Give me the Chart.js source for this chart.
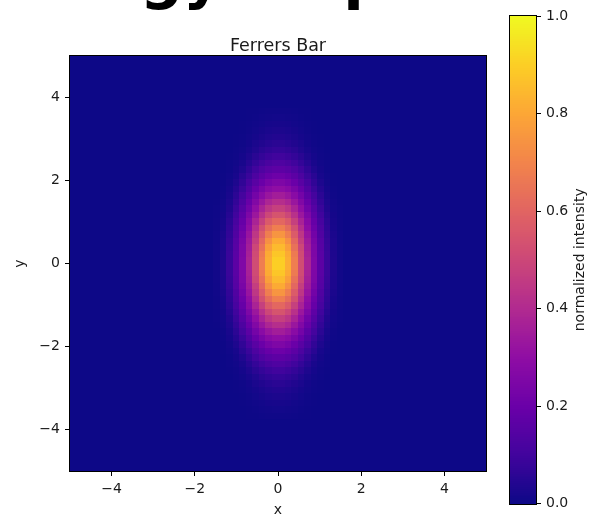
<!DOCTYPE html>
<html>
<head>
<meta charset="utf-8">
<script src="https://cdn.jsdelivr.net/npm/chart.js@4.4.0/dist/chart.umd.min.js"></script>
<style>
  html, body { margin: 0; padding: 0; background: #fff; }
  #wrap { position: relative; width: 594px; height: 517px; overflow: hidden; }
  #heat { position: absolute; left: 0; top: 0; }
  #cbar { position: absolute; left: 490px; top: 0; }
</style>
</head>
<body>
<div id="wrap">
  <canvas id="heat" width="594" height="517"></canvas>
  <canvas id="cbar" width="104" height="517"></canvas>
</div>
<script>
const figTitle = 'Energy Map';
const plotTitle = 'Ferrers Bar';
const xLabel = 'x';
const yLabel = 'y';
const cbarLabel = 'normalized intensity';

const xRange = [-5, 5];
const yRange = [-5, 5];
const nCells = 64; // cells per side

const xTicks = [-4, -2, 0, 2, 4];
const yTicks = [-4, -2, 0, 2, 4];
const cbarTicks = [0, 0.2, 0.4, 0.6, 0.8, 1.0];

// upper-right quarter of the map, centre outwards:
// row 0 is just above y=0, column 0 just right of x=0. The map is symmetric.
const quarter = [
  [0.90, 0.82, 0.68, 0.52, 0.38, 0.26, 0.165, 0.087, 0.034, 0.01],
  [0.88, 0.81, 0.67, 0.515, 0.37, 0.255, 0.16, 0.086, 0.033, 0.01],
  [0.85, 0.78, 0.64, 0.50, 0.36, 0.25, 0.156, 0.083, 0.03, 0.009],
  [0.81, 0.735, 0.61, 0.47, 0.345, 0.24, 0.15, 0.078, 0.03, 0.008],
  [0.75, 0.68, 0.57, 0.445, 0.325, 0.225, 0.14, 0.072, 0.026, 0.007],
  [0.68, 0.625, 0.53, 0.41, 0.30, 0.205, 0.13, 0.066, 0.022, 0.006],
  [0.61, 0.565, 0.475, 0.375, 0.28, 0.19, 0.118, 0.058, 0.019, 0.005],
  [0.545, 0.50, 0.425, 0.335, 0.25, 0.17, 0.10, 0.048, 0.015, 0.004],
  [0.475, 0.44, 0.375, 0.30, 0.22, 0.15, 0.086, 0.038, 0.012, 0.003],
  [0.415, 0.385, 0.33, 0.263, 0.195, 0.13, 0.073, 0.03, 0.009, 0.002],
  [0.355, 0.33, 0.285, 0.228, 0.167, 0.11, 0.06, 0.023, 0.006, 0],
  [0.30, 0.28, 0.24, 0.193, 0.14, 0.087, 0.046, 0.017, 0.004, 0],
  [0.253, 0.234, 0.20, 0.159, 0.115, 0.07, 0.032, 0.011, 0.002, 0],
  [0.208, 0.193, 0.166, 0.13, 0.087, 0.054, 0.022, 0.008, 0.001, 0],
  [0.168, 0.155, 0.133, 0.10, 0.068, 0.035, 0.015, 0.004, 0, 0],
  [0.133, 0.122, 0.10, 0.075, 0.048, 0.024, 0.009, 0.003, 0, 0],
  [0.10, 0.09, 0.075, 0.056, 0.032, 0.016, 0.006, 0.001, 0, 0],
  [0.075, 0.068, 0.055, 0.037, 0.022, 0.01, 0.004, 0, 0, 0],
  [0.055, 0.049, 0.038, 0.026, 0.014, 0.006, 0.002, 0, 0, 0],
  [0.04, 0.035, 0.027, 0.018, 0.009, 0.004, 0.001, 0, 0, 0],
  [0.028, 0.025, 0.019, 0.012, 0.006, 0.002, 0, 0, 0, 0],
  [0.019, 0.017, 0.012, 0.008, 0.004, 0.001, 0, 0, 0, 0],
  [0.012, 0.01, 0.007, 0.004, 0.002, 0, 0, 0, 0, 0],
  [0.006, 0.005, 0.004, 0.002, 0.001, 0, 0, 0, 0, 0]
];

const FONT = '"DejaVu Sans", sans-serif';
const INK = '#1a1a1a';
Chart.defaults.font.family = FONT;
Chart.defaults.color = INK;

// plasma colormap
const plasmaStops = ['#0d0887', '#41049d', '#6a00a8', '#8f0da4', '#b12a90', '#cc4778',
                     '#e16462', '#f2844b', '#fca636', '#fcce25', '#f0f921'];
const plasmaRgb = plasmaStops.map(h => [1, 3, 5].map(k => parseInt(h.substr(k, 2), 16)));
function plasma(t) {
  t = Math.min(1, Math.max(0, t));
  const f = t * (plasmaRgb.length - 1);
  const i = Math.min(plasmaRgb.length - 2, Math.floor(f));
  const u = f - i;
  const a = plasmaRgb[i], b = plasmaRgb[i + 1];
  return 'rgb(' + a.map((c, k) => Math.round(c + (b[k] - c) * u)).join(',') + ')';
}

// full grid of cells, mirrored out of the quarter
const cellSize = (xRange[1] - xRange[0]) / nCells;
const half = nCells / 2;
const cells = [];
for (let j = 0; j < nCells; j++) {
  const r = j >= half ? j - half : half - 1 - j;
  for (let i = 0; i < nCells; i++) {
    const c = i >= half ? i - half : half - 1 - i;
    const row = quarter[r];
    const v = row && c < row.length ? row[c] : 0;
    cells.push({ x: xRange[0] + (i + 0.5) * cellSize, y: yRange[0] + (j + 0.5) * cellSize, v: v });
  }
}

function tickText(v) {
  return v < 0 ? '\u2212' + Math.abs(v) : String(v);
}

const heatLayer = {
  id: 'heatLayer',
  beforeDatasetsDraw(chart) {
    const { ctx, scales: { x, y } } = chart;
    const hw = cellSize / 2;
    ctx.save();
    chart.data.datasets[0].data.forEach(p => {
      const l = Math.round(x.getPixelForValue(p.x - hw));
      const r = Math.round(x.getPixelForValue(p.x + hw));
      const t = Math.round(y.getPixelForValue(p.y + hw));
      const b = Math.round(y.getPixelForValue(p.y - hw));
      ctx.fillStyle = plasma(p.v);
      ctx.fillRect(l, t, r - l, b - t);
    });
    ctx.restore();
  },
  afterDraw(chart) {
    const { ctx, chartArea: a } = chart;
    ctx.save();
    ctx.strokeStyle = '#000';
    ctx.lineWidth = 1;
    ctx.strokeRect(Math.round(a.left) - 0.5, Math.round(a.top) - 0.5,
                   Math.round(a.right - a.left) + 1, Math.round(a.bottom - a.top) + 1);
    ctx.fillStyle = INK;
    ctx.textAlign = 'center';
    ctx.textBaseline = 'alphabetic';
    ctx.font = '17.5px ' + FONT;
    ctx.fillText(plotTitle, (a.left + a.right) / 2, 51);
    // figure title, mostly above the top edge
    ctx.fillStyle = '#000';
    ctx.textAlign = 'left';
    ctx.font = 'bold 60px ' + FONT;
    ctx.fillText(figTitle, -14, -3);
    ctx.restore();
  }
};

function axisOpts(ticks, title, fixSize) {
  return {
    type: 'linear',
    afterBuildTicks: s => { s.ticks = ticks.map(v => ({ value: v })); },
    afterFit: fixSize,
    ticks: { callback: tickText, font: { size: 14 }, color: INK, maxRotation: 0 },
    grid: { display: true, drawOnChartArea: false, drawTicks: true, tickLength: 5, color: '#000', lineWidth: 1 },
    border: { display: false },
    title: { display: true, text: title, font: { size: 14 }, color: INK }
  };
}

const xAxis = axisOpts(xTicks, xLabel, s => { s.height = 46; });
xAxis.min = xRange[0]; xAxis.max = xRange[1];
xAxis.ticks.padding = 4.5;
xAxis.title.padding = { top: 0, bottom: -2 };

const yAxis = axisOpts(yTicks, yLabel, s => { s.width = 70; });
yAxis.min = yRange[0]; yAxis.max = yRange[1];
yAxis.ticks.padding = 5;
yAxis.title.padding = { top: 12, bottom: 0 };

new Chart(document.getElementById('heat'), {
  type: 'scatter',
  data: { datasets: [{ data: cells, pointRadius: 0, pointHoverRadius: 0 }] },
  options: {
    responsive: false,
    animation: false,
    events: [],
    devicePixelRatio: 1,
    layout: { padding: { top: 56, right: 108, left: 0, bottom: 0 } },
    plugins: { legend: { display: false }, tooltip: { enabled: false } },
    scales: { x: xAxis, y: yAxis }
  },
  plugins: [heatLayer]
});

// colour bar
const cbarLayer = {
  id: 'cbarLayer',
  beforeDatasetsDraw(chart) {
    const { ctx, chartArea: a, scales: { y } } = chart;
    const levels = 256;
    ctx.save();
    for (let k = 0; k < levels; k++) {
      const t = Math.floor(y.getPixelForValue((k + 1) / levels));
      const b = Math.ceil(y.getPixelForValue(k / levels));
      ctx.fillStyle = plasma((k + 0.5) / levels);
      ctx.fillRect(a.left, t, a.right - a.left, b - t);
    }
    ctx.restore();
  },
  afterDraw(chart) {
    const { ctx, chartArea: a } = chart;
    ctx.save();
    ctx.strokeStyle = '#000';
    ctx.lineWidth = 1;
    ctx.strokeRect(Math.round(a.left) - 0.5, Math.round(a.top) - 0.5,
                   Math.round(a.right - a.left) + 1, Math.round(a.bottom - a.top) + 1);
    ctx.translate(90.5, (a.top + a.bottom) / 2);
    ctx.rotate(-Math.PI / 2);
    ctx.fillStyle = INK;
    ctx.font = '14px ' + FONT;
    ctx.textAlign = 'center';
    ctx.textBaseline = 'middle';
    ctx.fillText(cbarLabel, 0, 0);
    ctx.restore();
  }
};

new Chart(document.getElementById('cbar'), {
  type: 'scatter',
  data: { datasets: [] },
  options: {
    responsive: false,
    animation: false,
    events: [],
    devicePixelRatio: 1,
    layout: { padding: { top: 16, right: 0, left: 20, bottom: 9 } },
    plugins: { legend: { display: false }, tooltip: { enabled: false } },
    scales: {
      x: { display: false, min: 0, max: 1 },
      y: {
        position: 'right',
        min: 0, max: 1,
        afterBuildTicks: s => { s.ticks = cbarTicks.map(v => ({ value: v })); },
        afterFit: s => { s.width = 58; },
        ticks: { callback: v => v.toFixed(1), font: { size: 14 }, color: INK, padding: 5 },
        grid: { display: true, drawOnChartArea: false, drawTicks: true, tickLength: 5, color: '#000', lineWidth: 1 },
        border: { display: false }
      }
    }
  },
  plugins: [cbarLayer]
});
</script>
</body>
</html>
